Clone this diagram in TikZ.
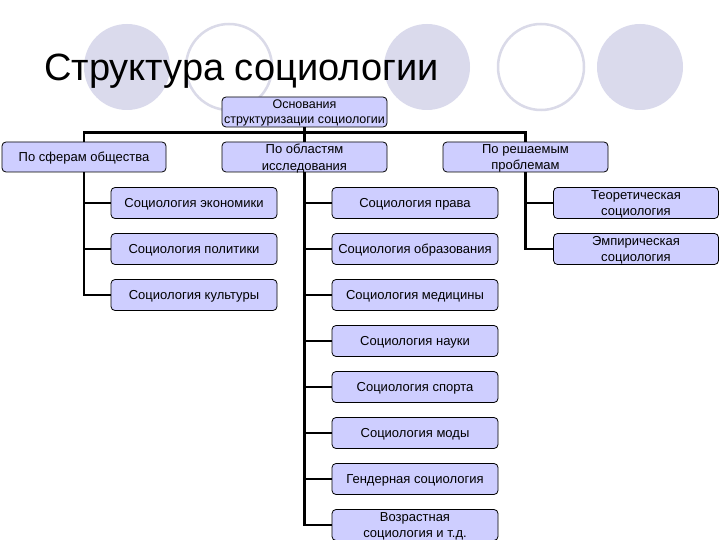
\documentclass[tikz,border=0pt]{standalone}
\usepackage{fontspec}
\setmainfont{Liberation Sans}
\definecolor{boxfill}{RGB}{206,206,255}
\definecolor{circfill}{RGB}{218,218,236}
\definecolor{circring}{RGB}{218,218,232}
\begin{document}
\begin{tikzpicture}[x=1pt,y=-1pt,
  box/.style={draw=black, line width=0.8pt, fill=boxfill, rounded corners=4pt,
    minimum width=166pt, minimum height=31pt, inner sep=0pt, align=center,
    text depth=0pt, font=\fontsize{13}{16.5}\selectfont},
  conn/.style={line width=2.4pt, black},
  fcirc/.style={fill=circfill, draw=none},
  rcirc/.style={draw=circring, line width=2.5pt, fill=white}]
\useasboundingbox (0,0) rectangle (720,540);
\fill[white] (0,0) rectangle (720,540);
% decorative circles
\path[fcirc] (127,67) circle (43);
\path[rcirc] (229,67) circle (43);
\path[fcirc] (427,67) circle (43);
\path[rcirc] (541,67) circle (43);
\path[fcirc] (640,67) circle (43);
% title
\node[anchor=base west, inner sep=0pt, font=\fontsize{38}{44}\selectfont] (title) at (44,81) {Структура социологии};
% nodes
\node[box, minimum width=165pt, minimum height=30pt, font=\fontsize{12.5}{15}\selectfont] (root) at (304.5,112) {Основания\\структуризации социологии};
\node[box, minimum width=164pt, minimum height=30pt] (l1) at (84,157) {По сферам общества};
\node[box, minimum width=165pt, minimum height=30pt] (m1) at (304.5,157) {По областям\\исследования};
\node[box, minimum width=165pt, minimum height=30pt] (r1) at (525.5,157) {По решаемым\\проблемам};
\node[box] (la) at (194,203) {Социология экономики};
\node[box] (lb) at (194,249) {Социология политики};
\node[box] (lc) at (194,295) {Социология культуры};
\node[box] (ma) at (415,203) {Социология права};
\node[box] (mb) at (415,249) {Социология образования};
\node[box] (mc) at (415,295) {Социология медицины};
\node[box] (md) at (415,341) {Социология науки};
\node[box] (me) at (415,387) {Социология спорта};
\node[box] (mf) at (415,433) {Социология моды};
\node[box] (mg) at (415,479) {Гендерная социология};
\node[box] (mh) at (415,525) {Возрастная\\социология и т.д.};
\node[box, minimum width=165pt] (ra) at (636,203) {Теоретическая\\социология};
\node[box, minimum width=165pt] (rb) at (636,249) {Эмпирическая\\социология};
% connectors
\draw[conn] (root.south) -- ++(0,6);
\draw[conn] (l1.north) -- ++(0,-9) -| (r1.north);
\draw[conn] (m1.north) -- ++(0,-9);
\foreach \c in {la,lb,lc} \draw[conn] (l1.south) |- (\c.west);
\foreach \c in {ma,mb,mc,md,me,mf,mg,mh} \draw[conn] (m1.south) |- (\c.west);
\foreach \c in {ra,rb} \draw[conn] (r1.south) |- (\c.west);
\end{tikzpicture}
\end{document}
